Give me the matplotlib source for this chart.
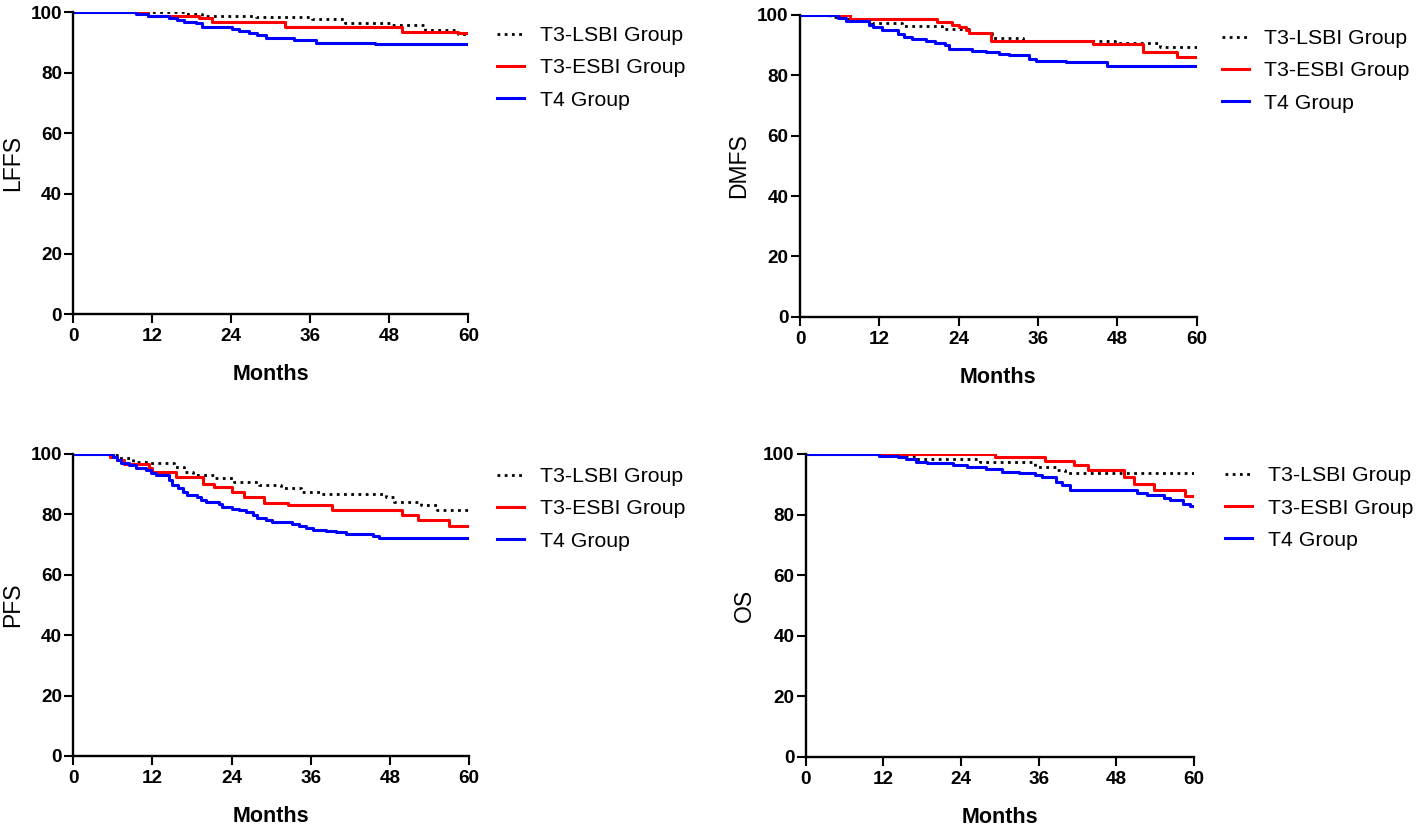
import matplotlib
matplotlib.use('Agg')
import matplotlib.pyplot as plt

plt.rcParams['font.family'] = ['Liberation Sans', 'DejaVu Sans']

month_ticks = [0, 12, 24, 36, 48, 60]
pct_ticks = [0, 20, 40, 60, 80, 100]
group_names = ['T3-LSBI Group', 'T3-ESBI Group', 'T4 Group']
endpoints = ['LFFS', 'DMFS', 'PFS', 'OS']

# LFFS
lffs_lsbi_t = [0, 17.1, 19.6, 27.7, 36.3, 41.3, 48.4, 53.4, 58.5, 60]
lffs_lsbi_s = [100, 99.4, 98.9, 98.3, 97.7, 96.6, 95.7, 94.0, 92.9, 92.9]
lffs_esbi_t = [0, 11.3, 19.1, 21.1, 32.2, 49.9, 58.5, 60]
lffs_esbi_s = [100, 98.9, 98.0, 96.9, 95.2, 93.5, 93.1, 93.1]
lffs_t4_t = [0, 9.5, 11.3, 14.5, 15.8, 16.8, 18.6, 19.6, 24.1, 25.2, 26.7,
             27.9, 29.2, 33.5, 36.8, 45.9, 60]
lffs_t4_s = [100, 99.4, 98.9, 98.0, 97.4, 96.7, 96.3, 95.2, 94.4, 93.8, 93.1,
             92.4, 91.5, 90.9, 89.9, 89.4, 89.4]

# DMFS
dmfs_lsbi_t = [0, 4.6, 7.3, 10.9, 15.4, 21.5, 25.6, 29.1, 33.7, 47.6, 54.5, 60]
dmfs_lsbi_s = [100, 99.4, 98.7, 97.3, 96.5, 95.4, 94.0, 92.4, 91.5, 90.6, 89.3, 89.3]
dmfs_esbi_t = [0, 7.6, 20.8, 23.0, 24.1, 25.1, 25.6, 28.9, 44.3, 51.9, 57.0, 60]
dmfs_esbi_s = [100, 98.7, 97.6, 96.8, 95.9, 95.0, 94.0, 91.5, 90.4, 87.7, 86.0, 86.0]
dmfs_t4_t = [0, 5.8, 7.0, 10.4, 11.1, 12.4, 14.9, 15.7, 17.0, 19.0, 20.5, 22.0,
             22.5, 26.0, 28.1, 30.1, 31.7, 34.7, 35.7, 40.3, 46.4, 60]
dmfs_t4_s = [100, 99.0, 98.0, 96.8, 95.9, 95.0, 93.7, 92.6, 92.1, 91.3, 90.6, 89.9,
             88.8, 88.2, 87.7, 87.1, 86.6, 85.5, 84.9, 84.4, 83.0, 83.0]

# PFS
pfs_lsbi_t = [0, 6.0, 7.0, 9.0, 11.3, 15.3, 16.8, 18.1, 21.4, 24.4, 28.2, 31.5,
              34.5, 37.5, 47.4, 48.6, 52.7, 55.2, 60]
pfs_lsbi_s = [100, 99.7, 98.6, 97.4, 96.9, 95.8, 94.1, 93.0, 91.9, 90.8, 89.7, 88.6,
              87.4, 86.7, 85.6, 84.1, 83.0, 81.3, 81.3]
pfs_esbi_t = [0, 5.5, 6.7, 7.7, 11.5, 12.0, 15.6, 19.6, 21.4, 24.1, 25.9, 28.9,
              32.5, 39.3, 49.9, 52.2, 57.0, 60]
pfs_esbi_s = [100, 99.1, 98.0, 96.7, 95.2, 94.1, 92.4, 90.2, 89.1, 87.4, 85.6, 83.8,
              83.0, 81.3, 79.7, 78.0, 76.3, 76.3]
pfs_t4_t = [0, 6.0, 6.7, 7.2, 8.5, 9.5, 11.0, 11.8, 12.5, 14.5, 15.0, 15.8, 16.6,
            17.3, 18.8, 19.3, 20.1, 22.1, 22.6, 24.1, 25.2, 26.2, 27.2, 27.9, 29.2,
            30.2, 33.2, 34.2, 35.3, 36.3, 38.3, 39.8, 41.3, 45.4, 46.4, 60]
pfs_t4_s = [100, 99.1, 98.0, 96.9, 96.3, 95.2, 94.7, 93.6, 93.0, 91.3, 89.7, 88.6, 87.4,
            86.3, 85.8, 84.7, 84.1, 83.6, 82.4, 81.9, 81.3, 80.8, 79.7, 78.9, 78.0,
            77.4, 76.9, 76.3, 75.6, 74.7, 74.4, 74.1, 73.6, 73.0, 72.1, 72.1]

# OS
os_lsbi_t = [0, 15.0, 17.0, 26.9, 35.5, 38.6, 40.1, 60]
os_lsbi_s = [100, 99.3, 98.2, 97.4, 95.8, 94.7, 93.6, 93.6]
os_esbi_t = [0, 29.2, 37.0, 41.4, 43.6, 49.2, 50.7, 53.8, 58.6, 60]
os_esbi_s = [100, 99.1, 97.8, 96.3, 94.7, 92.4, 90.2, 88.0, 86.0, 86.0]
os_t4_t = [0, 11.4, 14.2, 15.5, 17.0, 18.8, 22.8, 24.9, 27.9, 30.4, 33.0, 35.5,
           36.5, 38.6, 39.6, 40.8, 51.2, 52.8, 55.3, 56.3, 58.3, 59.4, 60]
os_t4_s = [100, 99.4, 98.9, 98.3, 97.4, 96.9, 96.3, 95.8, 94.9, 94.1, 93.6, 93.0,
           92.4, 90.8, 89.7, 88.0, 87.1, 86.6, 85.4, 84.7, 83.6, 82.7, 82.7]

curves = [
    [(lffs_lsbi_t, lffs_lsbi_s), (lffs_esbi_t, lffs_esbi_s), (lffs_t4_t, lffs_t4_s)],
    [(dmfs_lsbi_t, dmfs_lsbi_s), (dmfs_esbi_t, dmfs_esbi_s), (dmfs_t4_t, dmfs_t4_s)],
    [(pfs_lsbi_t, pfs_lsbi_s), (pfs_esbi_t, pfs_esbi_s), (pfs_t4_t, pfs_t4_s)],
    [(os_lsbi_t, os_lsbi_s), (os_esbi_t, os_esbi_s), (os_t4_t, os_t4_s)],
]

styles = [dict(color='black', lw=2.0, ls=(0, (1.0, 1.6))),
          dict(color='#ff0000', lw=2.2),
          dict(color='#0000ff', lw=2.2)]

W, H = 1418, 827
fig = plt.figure(figsize=(W / 100, H / 100), dpi=100)

# axes boxes in pixels: left, top, right, bottom
boxes = [(73.3, 12.3, 468.3, 314.3),
         (800.0, 15.0, 1196.5, 316.7),
         (73.3, 454.0, 469.0, 756.0),
         (805.7, 454.0, 1194.0, 756.7)]
# legend anchor (handle start x, middle row y) in pixels
leg_pos = [(497, 68), (1222, 71), (497, 509), (1225, 508)]

for i, name in enumerate(endpoints):
    l, t, r, b = boxes[i]
    ax = fig.add_axes([l / W, 1 - b / H, (r - l) / W, (b - t) / H])
    for (xs, ys), st, lab in zip(curves[i], styles, group_names):
        ax.step(xs, ys, where='post', label=lab, **st)
    ax.set_xlim(0, 60)
    ax.set_ylim(0, 100)
    ax.set_xticks(month_ticks)
    ax.set_yticks(pct_ticks)
    for side in ['top', 'right']:
        ax.spines[side].set_visible(False)
    for side in ['left', 'bottom']:
        ax.spines[side].set_linewidth(1.7)
    ax.tick_params(axis='both', direction='out', length=6.2, width=1.5,
                   labelsize=13.6)
    ax.tick_params(axis='x', pad=4.0)
    ax.tick_params(axis='y', pad=2)
    for lbl in ax.get_xticklabels() + ax.get_yticklabels():
        lbl.set_fontweight('bold')
    w_px, h_px = r - l, b - t
    ax.set_xlabel('Months', fontsize=15.5, fontweight='bold', va='baseline')
    ax.xaxis.set_label_coords(0.5, -(380.3 - 314.3) / h_px)
    ax.set_ylabel(name, fontsize=16.5, va='center')
    ax.yaxis.set_label_coords(-61 / w_px, 0.5)
    lx, ly = leg_pos[i]
    ax.legend(loc='center left', bbox_to_anchor=((lx - l) / w_px, (b - ly) / h_px),
              frameon=False, fontsize=15.3, handlelength=1.25, handletextpad=0.75,
              labelspacing=0.62, borderpad=0, borderaxespad=0)

fig.savefig('out.png', dpi=100)
